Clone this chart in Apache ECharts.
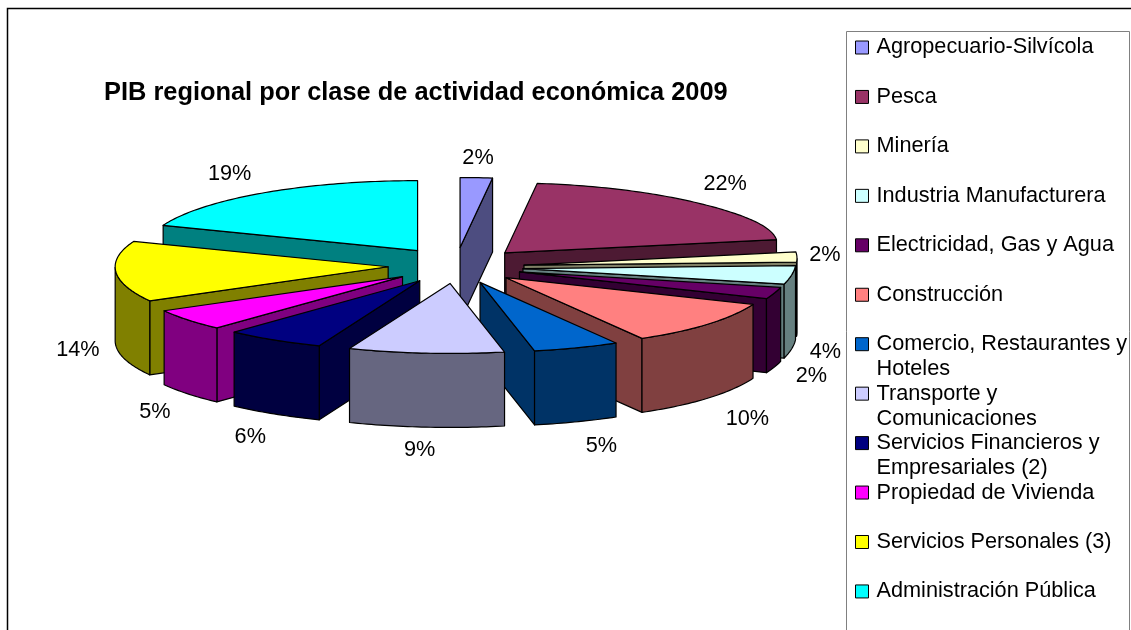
<!DOCTYPE html>
<html><head><meta charset="utf-8">
<style>html,body{margin:0;padding:0;background:#fff}#c{width:1131px;height:630px}</style>
<script src="https://cdn.jsdelivr.net/npm/echarts@6/dist/echarts.min.js"></script>
</head><body><div id="c"></div>
<script>
const titleText = 'PIB regional por clase de actividad económica 2009';
const categories = ['Agropecuario-Silvícola','Pesca','Minería','Industria Manufacturera','Electricidad, Gas y Agua','Construcción','Comercio, Restaurantes y Hoteles','Transporte y Comunicaciones','Servicios Financieros y Empresariales (2)','Propiedad de Vivienda','Servicios Personales (3)','Administración Pública'];
const shares = [1.9,21.6,2.4,3.8,2.3,9.7,5.1,9.2,5.9,5.0,14.0,19.1];
const topColors = ['#9999FF','#993366','#FFFFCC','#CCFFFF','#660066','#FF8080','#0066CC','#CCCCFF','#000080','#FF00FF','#FFFF00','#00FFFF'];
const sideColors = ['#4D4D80','#4D1A33','#808066','#668080','#330033','#804040','#003366','#666680','#000040','#800080','#808000','#008080'];
// a leading blank line keeps the marker level with the first line of a wrapped name
const legendBreaks = {'Comercio, Restaurantes y Hoteles':'\nComercio, Restaurantes y\nHoteles','Transporte y Comunicaciones':'\nTransporte y\nComunicaciones','Servicios Financieros y Empresariales (2)':'\nServicios Financieros y\nEmpresariales (2)'};

// projection of the tilted pie
const FONT = 'Liberation Sans, Arial, sans-serif';
const view = {cx:456, cy:265.5, rx:273, ry:70, explodeX:68, explodeY:18, depth:74, lift:7};
const labelGap = {x:28, y:30};
const labelNudge = [[0,10],[5,1],[0,-8],[6,-8],[11,-6],[20,0],[15,-4],[-4,-7],[-9,-2],[-11,0],[-10,2],[-18,6]];
const legendLayout = {left:855, firstCentre:47.5, pitch:49.45, lineHeight:25};

const total = shares.reduce((a,b)=>a+b,0);
let running = 0;
const spans = shares.map(v=>{const s=running; running+=v; return [v,s,running];});
const toAngle = v => v/total*Math.PI*2;

function renderSlice(i){
  return function(params, api){
    const a = toAngle(api.value(1)), b = toAngle(api.value(2)), mid=(a+b)/2;
    const tx = view.cx+Math.sin(mid)*view.explodeX, ty = view.cy-Math.cos(mid)*view.explodeY;
    const rim = t => [tx+Math.sin(t)*view.rx, ty-Math.cos(t)*view.ry-view.lift*Math.pow(Math.max(0,Math.sin(t)),8)];
    const down = p => [p[0],p[1]+view.depth];
    const line = {stroke:'#000',lineWidth:1.2,lineJoin:'round'};
    const steps = Math.max(2,Math.ceil((b-a)/(Math.PI/180)));
    const arc=[]; for(let k=0;k<=steps;k++) arc.push(rim(a+(b-a)*k/steps));
    const kids=[];
    const poly = (pts,fill)=>kids.push({type:'polygon',shape:{points:pts},style:Object.assign({fill:fill},line)});
    const tip=[tx,ty];
    if(Math.sin(a)<0) poly([tip,rim(a),down(rim(a)),down(tip)],sideColors[i]);
    if(Math.sin(b)>0) poly([tip,rim(b),down(rim(b)),down(tip)],sideColors[i]);
    const front = arc.filter((p,k)=>Math.cos(a+(b-a)*k/steps)<0);
    if(front.length>1) poly(front.concat(front.slice().reverse().map(down)),sideColors[i]);
    poly([tip].concat(arc),topColors[i]);
    const cm=Math.cos(mid), sm=Math.sin(mid);
    kids.push({type:'text',z2:50,style:{
      x:tx+sm*(view.rx+labelGap.x)+labelNudge[i][0],
      y:ty-cm*(view.ry+labelGap.y)+(cm<-0.02?view.depth:0)+labelNudge[i][1],
      text:Math.round(api.value(0))+'%',fill:'#000',font:'21.7px '+FONT,align:'center',verticalAlign:'middle'}});
    return {type:'group',children:kids};
  };
}

const legendLines = name => (legendBreaks[name]||name).split('\n').length;
const chart = echarts.init(document.getElementById('c'),null,{renderer:'canvas'});
chart.setOption({
  animation:false,
  backgroundColor:'#fff',
  title:{text:titleText,left:104,top:80.5,textStyle:{fontFamily:FONT,fontWeight:'bold',fontSize:25.4,color:'#000'},padding:0},
  graphic:[
    {type:'rect',z:-5,silent:true,shape:{x:7.5,y:8.5,width:1300,height:800},style:{fill:'#fff',stroke:'#000',lineWidth:1.5}},
    {type:'rect',z:-4,silent:true,shape:{x:846.5,y:31.5,width:283,height:800},style:{fill:'#fff',stroke:'#808080',lineWidth:1}}
  ],
  legend:categories.map((name,i)=>({
    orient:'vertical',left:legendLayout.left,
    top:legendLayout.firstCentre+i*legendLayout.pitch-legendLines(name)*legendLayout.lineHeight/2,
    itemWidth:13,itemHeight:13,icon:'rect',align:'left',padding:0,
    data:[name],selectedMode:false,
    itemStyle:{borderColor:'#000',borderWidth:1},
    formatter:n=>legendBreaks[n]||n,
    textStyle:{fontFamily:FONT,fontSize:21.7,color:'#000',lineHeight:legendLayout.lineHeight,padding:[0,0,0,3]}
  })),
  series:categories.map((name,i)=>({
    type:'custom',name:name,coordinateSystem:'none',silent:true,clip:false,
    z:2+(1-Math.cos(toAngle((spans[i][1]+spans[i][2])/2)))*10,
    itemStyle:{color:topColors[i]},
    renderItem:renderSlice(i),
    encode:{},
    data:[spans[i]]
  }))
});
</script></body></html>
